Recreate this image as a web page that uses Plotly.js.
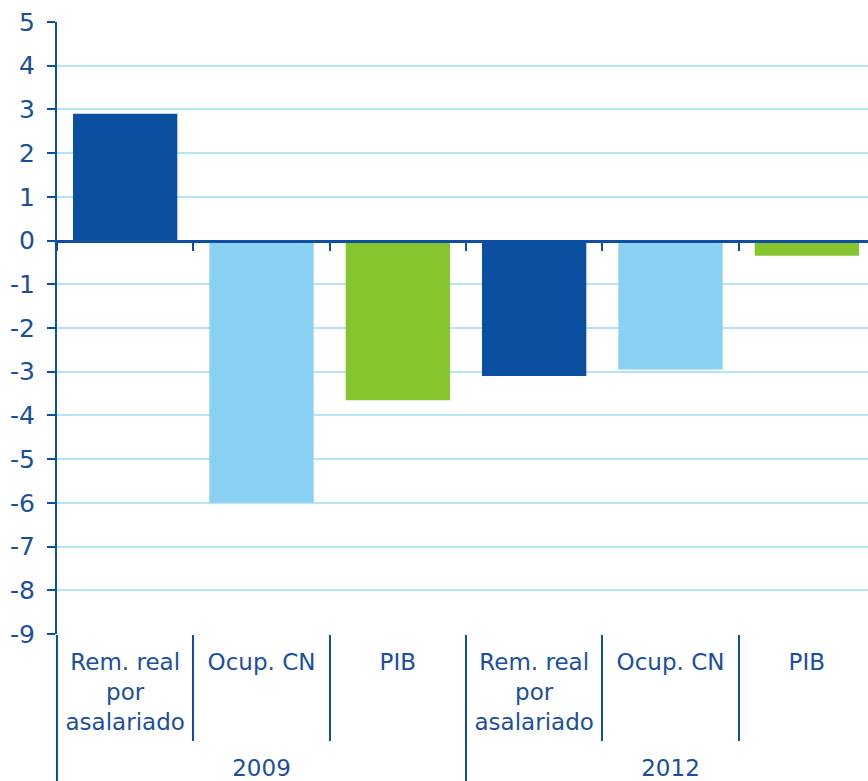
<!DOCTYPE html>
<html><head><meta charset="utf-8">
<script src="https://cdn.plot.ly/plotly-3.0.1.min.js"></script>
<style>html,body{margin:0;padding:0;overflow:hidden;background:#fff}</style>
</head><body><div id="chart"></div>
<script>
const years = ['2009', '2009', '2009', '2012', '2012', '2012'];
const categories = ['Rem. real<br>por<br>asalariado<br>\u00a0', 'Ocup. CN', 'PIB', 'Rem. real<br>por<br>asalariado<br>\u00a0', 'Ocup. CN', 'PIB'];
const values = [2.9, -6.0, -3.65, -3.1, -2.95, -0.35];
const barColors = ['#0a4fa0', '#89d1f3', '#86c530', '#0a4fa0', '#89d1f3', '#86c530'];
const yRange = [-9, 5];
const yTicks = [5, 4, 3, 2, 1, 0, -1, -2, -3, -4, -5, -6, -7, -8, -9];

const dark = '#0d4fa0';
const textColor = '#1a4f9e';
const gridColor = '#b5e4f7';
const fontFam = 'DejaVu Sans, sans-serif';

const xData = [years, categories];
const zeroPos = (0 - yRange[0]) / (yRange[1] - yRange[0]);

const traces = [
  {type: 'bar', x: xData, y: values, marker: {color: barColors}, hoverinfo: 'skip', xaxis: 'x', yaxis: 'y'},
  {type: 'bar', x: xData, y: values, marker: {color: 'rgba(0,0,0,0)'}, hoverinfo: 'skip', xaxis: 'x2', yaxis: 'y'},
  {type: 'bar', x: xData, y: values, marker: {color: 'rgba(0,0,0,0)'}, hoverinfo: 'skip', xaxis: 'x3', yaxis: 'y'}
];

const layout = {
  width: 875, height: 781,
  margin: {l: 57, r: 0, t: 22, b: 147},
  paper_bgcolor: '#fff', plot_bgcolor: '#fff',
  showlegend: false,
  bargap: 0.235,
  font: {family: fontFam, color: textColor},
  xaxis: {
    type: 'multicategory', anchor: 'y',
    ticks: '', showgrid: false, showline: false, zeroline: false,
    showdividers: true, dividercolor: dark, dividerwidth: 2,
    ticklabelstandoff: 12,
    tickfont: {family: fontFam, size: 23, color: textColor}
  },
  xaxis2: {
    type: 'multicategory', overlaying: 'x', anchor: 'free', position: zeroPos,
    showticklabels: false, showdividers: false, showgrid: false, zeroline: false,
    ticks: 'outside', tickson: 'boundaries', ticklen: 8, tickwidth: 2, tickcolor: dark,
    showline: true, linecolor: dark, linewidth: 3
  },
  xaxis3: {
    type: 'multicategory', overlaying: 'x', anchor: 'y',
    showticklabels: false, showdividers: false, showgrid: false, zeroline: false, showline: false,
    ticks: 'outside', tickson: 'boundaries', ticklen: 106, tickwidth: 2, tickcolor: dark
  },
  yaxis: {
    range: yRange, tickvals: yTicks, ticktext: yTicks.map(String),
    showline: true, linecolor: dark, linewidth: 2,
    ticks: 'outside', ticklen: 8, tickwidth: 2, tickcolor: dark,
    showgrid: true, gridcolor: gridColor, gridwidth: 2,
    zeroline: false,
    ticklabelstandoff: 7,
    tickfont: {family: fontFam, size: 25, color: textColor}
  }
};

Plotly.newPlot('chart', traces, layout, {displayModeBar: false, staticPlot: true});
</script>
</body></html>
